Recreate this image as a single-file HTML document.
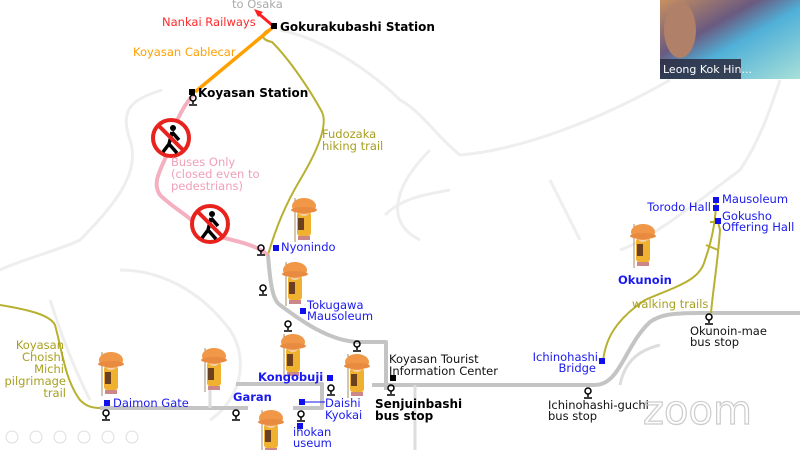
<!DOCTYPE html>
<html><head><meta charset="utf-8"><style>
body{margin:0;width:800px;height:450px;overflow:hidden;background:#fff;font-family:"Liberation Sans",sans-serif}
svg text{font-family:"DejaVu Sans","Liberation Sans",sans-serif}
</style></head><body>
<svg width="800" height="450" viewBox="0 0 800 450" xmlns="http://www.w3.org/2000/svg">
<defs>
<g id="monk">
<line x1="-9" y1="-2" x2="-9" y2="42" stroke="#a86" stroke-width="1"/>
<rect x="-7" y="12" width="14" height="24" rx="3" fill="#f0b030"/>
<rect x="-6" y="18" width="6" height="12" fill="#6a4020"/>
<circle cx="0" cy="10" r="6" fill="#f6d0a8"/>
<ellipse cx="0" cy="6" rx="12" ry="8" fill="#f09848"/>
<ellipse cx="0" cy="10" rx="13" ry="3" fill="#e88a40"/>
<rect x="-6" y="36" width="12" height="4" fill="#c88"/>
</g>
<g id="bus"><circle cx="0" cy="-3" r="3" fill="none" stroke="#000" stroke-width="1.5"/><line x1="0" y1="0" x2="0" y2="3" stroke="#000" stroke-width="1.5"/><line x1="-4" y1="4" x2="4" y2="4" stroke="#000" stroke-width="1.5"/></g>
<g id="nowalk"><circle r="18" fill="#fff" stroke="#e8231e" stroke-width="4"/><circle cx="2" cy="-10" r="3" fill="#000"/><path d="M1,-6 L-2,6 L-8,14 M-2,6 L6,15 M1,-6 L8,2" stroke="#000" stroke-width="3.5" fill="none"/><line x1="-13" y1="-13" x2="13" y2="13" stroke="#e8231e" stroke-width="4"/></g>
</defs>
<g fill="none" stroke="#eeeeee" stroke-width="3">
<path d="M280,30 C330,40 380,80 400,100 C420,110 440,140 460,155 C520,150 600,120 670,80"/>
<path d="M550,180 C560,200 570,220 580,240"/>
<path d="M430,150 C400,180 380,220 420,240"/>
<path d="M162,90 C130,100 120,110 130,140 C140,170 120,200 80,240 C60,250 20,260 0,270"/>
<path d="M50,300 C60,330 70,360 90,400"/>
<path d="M120,270 C160,270 200,290 230,330 C250,360 240,400 210,420"/>
<path d="M780,80 C770,110 760,140 740,170 C700,200 650,240 620,250"/>
<path d="M385,215 C400,200 420,195 450,190"/>
</g>
<g fill="none" stroke="#c4c4c4" stroke-width="4" stroke-linejoin="round">
<path d="M268,255 C270,280 272,300 280,305 C300,320 330,342 360,342 L386,342 L386,390"/>
<path d="M372,385 L595,385 C620,385 625,345 650,322 C660,315 670,313 700,313 L800,313"/>
<path d="M100,408 L248,408"/>
<path d="M236,384 L322,384 L322,408 L293,408"/>
</g>
<g fill="none" stroke="#ddd" stroke-width="3">
<path d="M210,380 L210,408"/><path d="M415,385 L415,450"/><path d="M620,385 C625,360 640,350 660,345"/>
</g>
<g fill="none" stroke="#b8b030" stroke-width="2">
<path d="M268,30 C260,35 262,40 272,42 C290,60 310,90 322,112 C328,125 318,150 300,180 C285,205 275,230 268,255"/>
<path d="M0,305 C30,310 50,315 55,325 C62,350 65,380 80,400 C85,405 90,408 100,408"/>
<path d="M603,362 C605,340 615,320 645,300 C680,285 700,280 705,260 C712,240 716,220 716,200"/>
<path d="M711,313 C713,290 718,260 720,230 L718,222 L710,222 M706,245 L718,250"/>
</g>
<path d="M193,95 C180,110 172,130 170,145 C165,165 150,180 160,195 C175,210 190,215 200,230 C220,240 250,240 268,255" fill="none" stroke="#f4b0c0" stroke-width="4"/>
<line x1="272" y1="28" x2="195" y2="92" stroke="#ffa000" stroke-width="3.5"/>
<line x1="272" y1="25" x2="259" y2="14" stroke="#ff2020" stroke-width="3"/>
<path d="M254,9 L263,12 L258,17 Z" fill="#ff2020"/>
<use href="#nowalk" x="171" y="138"/>
<use href="#nowalk" x="210" y="224"/>
<use href="#monk" x="304" y="200"/>
<use href="#monk" x="295" y="264"/>
<use href="#monk" x="293" y="336"/>
<use href="#monk" x="357" y="356"/>
<use href="#monk" x="111" y="354"/>
<use href="#monk" x="214" y="350"/>
<use href="#monk" x="271" y="412"/>
<use href="#monk" x="643" y="226"/>
<use href="#bus" x="193" y="101"/><use href="#bus" x="261" y="251"/><use href="#bus" x="263" y="291"/><use href="#bus" x="288" y="327"/><use href="#bus" x="331" y="391"/><use href="#bus" x="301" y="417"/><use href="#bus" x="391" y="391"/><use href="#bus" x="588" y="394"/><use href="#bus" x="709" y="320"/><use href="#bus" x="106" y="416"/><use href="#bus" x="236" y="416"/><use href="#bus" x="357" y="347"/>
<g fill="#000"><rect x="271" y="23" width="6" height="6"/><rect x="189" y="89" width="6" height="6"/><rect x="390" y="375" width="6" height="6"/></g>
<g fill="#1010ee"><rect x="273" y="245" width="6" height="6"/><rect x="300" y="308" width="6" height="6"/><rect x="327" y="375" width="6" height="6"/><rect x="104" y="400" width="6" height="6"/><rect x="299" y="399" width="6" height="6"/><rect x="297" y="423" width="6" height="6"/><rect x="599" y="358" width="6" height="6"/><rect x="713" y="197" width="6" height="6"/><rect x="713" y="205" width="6" height="6"/><rect x="715" y="218" width="6" height="6"/></g>
<line x1="305" y1="402" x2="325" y2="402" stroke="#1010ee" stroke-width="1"/>
<g font-size="11.5">
<text x="232" y="8" fill="#aaa">to Osaka</text>
<text x="162" y="26" fill="#ff2a2a">Nankai Railways</text>
<text x="133" y="56" fill="#ffa000">Koyasan Cablecar</text>
<text x="171" y="166" fill="#f0a0b8">Buses Only</text>
<text x="171" y="178" fill="#f0a0b8">(closed even to</text>
<text x="171" y="190" fill="#f0a0b8">pedestrians)</text>
<text x="322" y="138" fill="#a8a020">Fudozaka</text>
<text x="322" y="150" fill="#a8a020">hiking trail</text>
<g fill="#a8a020" text-anchor="end"><text x="64" y="349">Koyasan</text><text x="64" y="361">Choishi</text><text x="64" y="373">Michi</text><text x="66" y="385">pilgrimage</text><text x="66" y="397">trail</text></g>
<text x="632" y="308" fill="#a8a020">walking trails</text>
<g fill="#1a1aee">
<text x="281" y="251">Nyonindo</text>
<text x="307" y="309">Tokugawa</text><text x="307" y="320">Mausoleum</text>
<text x="113" y="407">Daimon Gate</text>
<text x="325" y="407">Daishi</text><text x="325" y="419">Kyokai</text>
<text x="293" y="436">ihokan</text><text x="293" y="447">useum</text>
<text x="598" y="361" text-anchor="end">Ichinohashi</text><text x="596" y="372" text-anchor="end">Bridge</text>
<text x="711" y="211" text-anchor="end">Torodo Hall</text>
<text x="722" y="203">Mausoleum</text>
<text x="722" y="220">Gokusho</text><text x="722" y="231">Offering Hall</text>
</g>
<g fill="#1a1aee" font-weight="bold"><text x="258" y="381">Kongobuji</text><text x="233" y="401">Garan</text><text x="618" y="284">Okunoin</text></g>
<g fill="#111"><text x="389" y="363">Koyasan Tourist</text><text x="389" y="375">Information Center</text>
<text x="548" y="409">Ichinohashi-guchi</text><text x="548" y="420">bus stop</text>
<text x="690" y="335">Okunoin-mae</text><text x="690" y="346">bus stop</text></g>
<g fill="#000" font-weight="bold" font-size="12"><text x="280" y="31">Gokurakubashi Station</text><text x="198" y="97">Koyasan Station</text><text x="375" y="408">Senjuinbashi</text><text x="375" y="420">bus stop</text></g>
</g>
<text x="643" y="424" font-size="40" fill="none" stroke="#ccc" stroke-width="1.2" font-family="Liberation Sans">zoom</text>
<g fill="none" stroke="#ddd" stroke-width="1"><circle cx="12" cy="437" r="6"/><circle cx="36" cy="437" r="6"/><circle cx="60" cy="437" r="6"/><circle cx="84" cy="437" r="6"/><circle cx="108" cy="437" r="6"/><circle cx="132" cy="437" r="6"/></g>
<defs><linearGradient id="vg" x1="0" y1="0" x2="1" y2="1"><stop offset="0" stop-color="#c89060"/><stop offset="0.35" stop-color="#6a5a80"/><stop offset="0.55" stop-color="#50b0d8"/><stop offset="1" stop-color="#a8e0d8"/></linearGradient></defs>
<rect x="660" y="0" width="140" height="79" fill="url(#vg)"/>
<ellipse cx="680" cy="30" rx="16" ry="28" fill="#b08068"/>
<rect x="660" y="59" width="81" height="20" fill="#2a2a40" opacity="0.85"/>
<text x="663" y="73" font-size="11" fill="#fff" font-family="Liberation Sans">Leong Kok Hin...</text>
</svg>
</body></html>
